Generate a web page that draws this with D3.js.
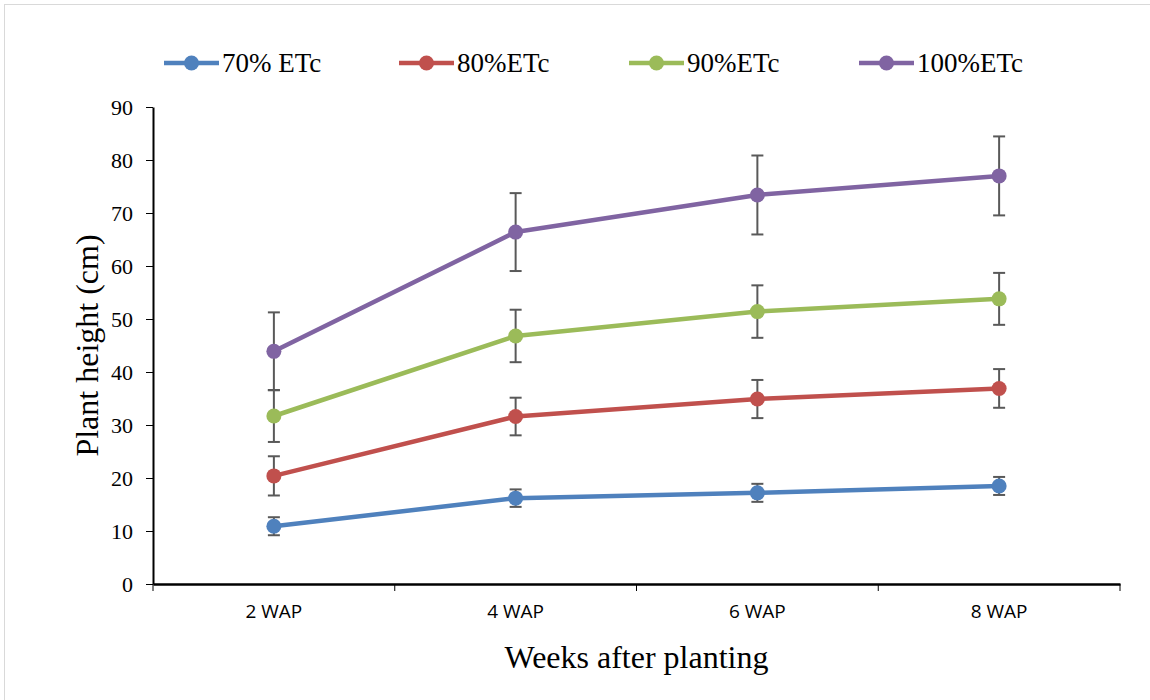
<!DOCTYPE html>
<html>
<head>
<meta charset="utf-8">
<script src="https://cdn.jsdelivr.net/npm/d3@7"></script>
<style>
html,body{margin:0;padding:0;background:#fff;}
svg{display:block;}
</style>
</head>
<body>
<svg id="chart" width="1150" height="700"></svg>
<script>
// ---- data ----
const categories = ["2 WAP", "4 WAP", "6 WAP", "8 WAP"];
const seriesNames = ["70% ETc", "80%ETc", "90%ETc", "100%ETc"];
const values70 = [10.9, 16.2, 17.2, 18.5];
const errors70 = [1.7, 1.65, 1.7, 1.7];
const values80 = [20.4, 31.6, 34.9, 36.9];
const errors80 = [3.7, 3.55, 3.6, 3.65];
const values90 = [31.7, 46.8, 51.4, 53.8];
const errors90 = [4.9, 4.95, 4.95, 4.9];
const values100 = [43.9, 66.4, 73.4, 77.0];
const errors100 = [7.35, 7.35, 7.45, 7.45];
const yTicks = [0, 10, 20, 30, 40, 50, 60, 70, 80, 90];
const xTitle = "Weeks after planting";
const yTitle = "Plant height (cm)";

const colors = ["#4f81bd", "#c0504d", "#9bbb59", "#8064a2"];
const series = [
  {name: seriesNames[0], values: values70, errors: errors70, color: colors[0]},
  {name: seriesNames[1], values: values80, errors: errors80, color: colors[1]},
  {name: seriesNames[2], values: values90, errors: errors90, color: colors[2]},
  {name: seriesNames[3], values: values100, errors: errors100, color: colors[3]}
];

const svg = d3.select("#chart");
const serif = "'Liberation Serif','Times New Roman',serif";
const sans = "'Open Sans','Liberation Sans',sans-serif";

// outer frame
svg.append("rect").attr("x", 4.5).attr("y", 4.5).attr("width", 1200).attr("height", 800)
  .attr("fill", "none").attr("stroke", "#d9d9d9").attr("stroke-width", 1);

const plotLeft = 153, plotRight = 1120, plotTop = 107, plotBottom = 584;
const x = d3.scaleBand().domain(categories).range([plotLeft, plotRight]).padding(0);
const y = d3.scaleLinear().domain([0, 90]).range([plotBottom, plotTop]);
const cx = d => x(d) + x.bandwidth() / 2;

// y axis
const yAxis = d3.axisLeft(y).tickValues(yTicks).tickSize(7).tickSizeOuter(0).tickPadding(13);
const gy = svg.append("g").attr("transform", `translate(${plotLeft},0)`).call(yAxis);
gy.select(".domain").attr("stroke", "#000").attr("stroke-width", 2);
gy.selectAll(".tick line").attr("stroke", "#000").attr("stroke-width", 1);
gy.selectAll(".tick text").attr("font-family", serif).attr("font-size", 22).attr("fill", "#000");

// x axis (labels at band centres, ticks at band boundaries)
const xAxis = d3.axisBottom(x).tickSize(0).tickSizeOuter(0).tickPadding(21);
const gx = svg.append("g").attr("transform", `translate(0,${plotBottom})`).call(xAxis);
gx.select(".domain").attr("stroke", "#000").attr("stroke-width", 2.5);
gx.selectAll(".tick text").attr("font-family", sans).attr("font-size", 19).attr("fill", "#000");
const boundaries = categories.map(c => x(c)).concat([x.range()[1]]);
svg.append("g").selectAll("line").data(boundaries).join("line")
  .attr("x1", d => d).attr("x2", d => d)
  .attr("y1", plotBottom).attr("y2", plotBottom + 7)
  .attr("stroke", "#000").attr("stroke-width", 1);

// axis titles
svg.append("text").attr("x", (plotLeft + plotRight) / 2).attr("y", 668)
  .attr("text-anchor", "middle").attr("font-family", serif).attr("font-size", 32)
  .attr("fill", "#000").text(xTitle);
svg.append("text").attr("transform", `translate(98,${(plotTop + plotBottom) / 2}) rotate(-90)`)
  .attr("text-anchor", "middle").attr("font-family", serif).attr("font-size", 32)
  .attr("fill", "#000").text(yTitle);

// error bars
const eg = svg.append("g");
series.forEach(s => {
  const g = eg.append("g");
  categories.forEach((c, i) => {
    const hi = y(s.values[i] + s.errors[i]), lo = y(s.values[i] - s.errors[i]);
    g.append("line").attr("x1", cx(c)).attr("x2", cx(c)).attr("y1", hi).attr("y2", lo)
      .attr("stroke", "#595959").attr("stroke-width", 2);
    [hi, lo].forEach(v => g.append("line").attr("x1", cx(c) - 6).attr("x2", cx(c) + 6)
      .attr("y1", v).attr("y2", v).attr("stroke", "#595959").attr("stroke-width", 2));
  });
});

// lines & markers
const line = d3.line().x((d, i) => cx(categories[i])).y(d => y(d));
series.forEach(s => {
  svg.append("path").datum(s.values).attr("d", line)
    .attr("fill", "none").attr("stroke", s.color).attr("stroke-width", 4.5)
    .attr("stroke-linejoin", "round");
  svg.append("g").selectAll("circle").data(s.values).join("circle")
    .attr("cx", (d, i) => cx(categories[i])).attr("cy", d => y(d)).attr("r", 7.5)
    .attr("fill", s.color);
});

// legend
const legendX = [164, 399, 629, 859];
const legendY = 63;
series.forEach((s, i) => {
  const g = svg.append("g").attr("transform", `translate(${legendX[i]},${legendY})`);
  g.append("line").attr("x1", 0).attr("x2", 55).attr("y1", 0).attr("y2", 0)
    .attr("stroke", s.color).attr("stroke-width", 4.5);
  g.append("circle").attr("cx", 27.5).attr("cy", 0).attr("r", 7.5).attr("fill", s.color);
  g.append("text").attr("x", 58).attr("y", 9).attr("font-family", serif)
    .attr("font-size", 27).attr("fill", "#000").text(s.name);
});
</script>
</body>
</html>
